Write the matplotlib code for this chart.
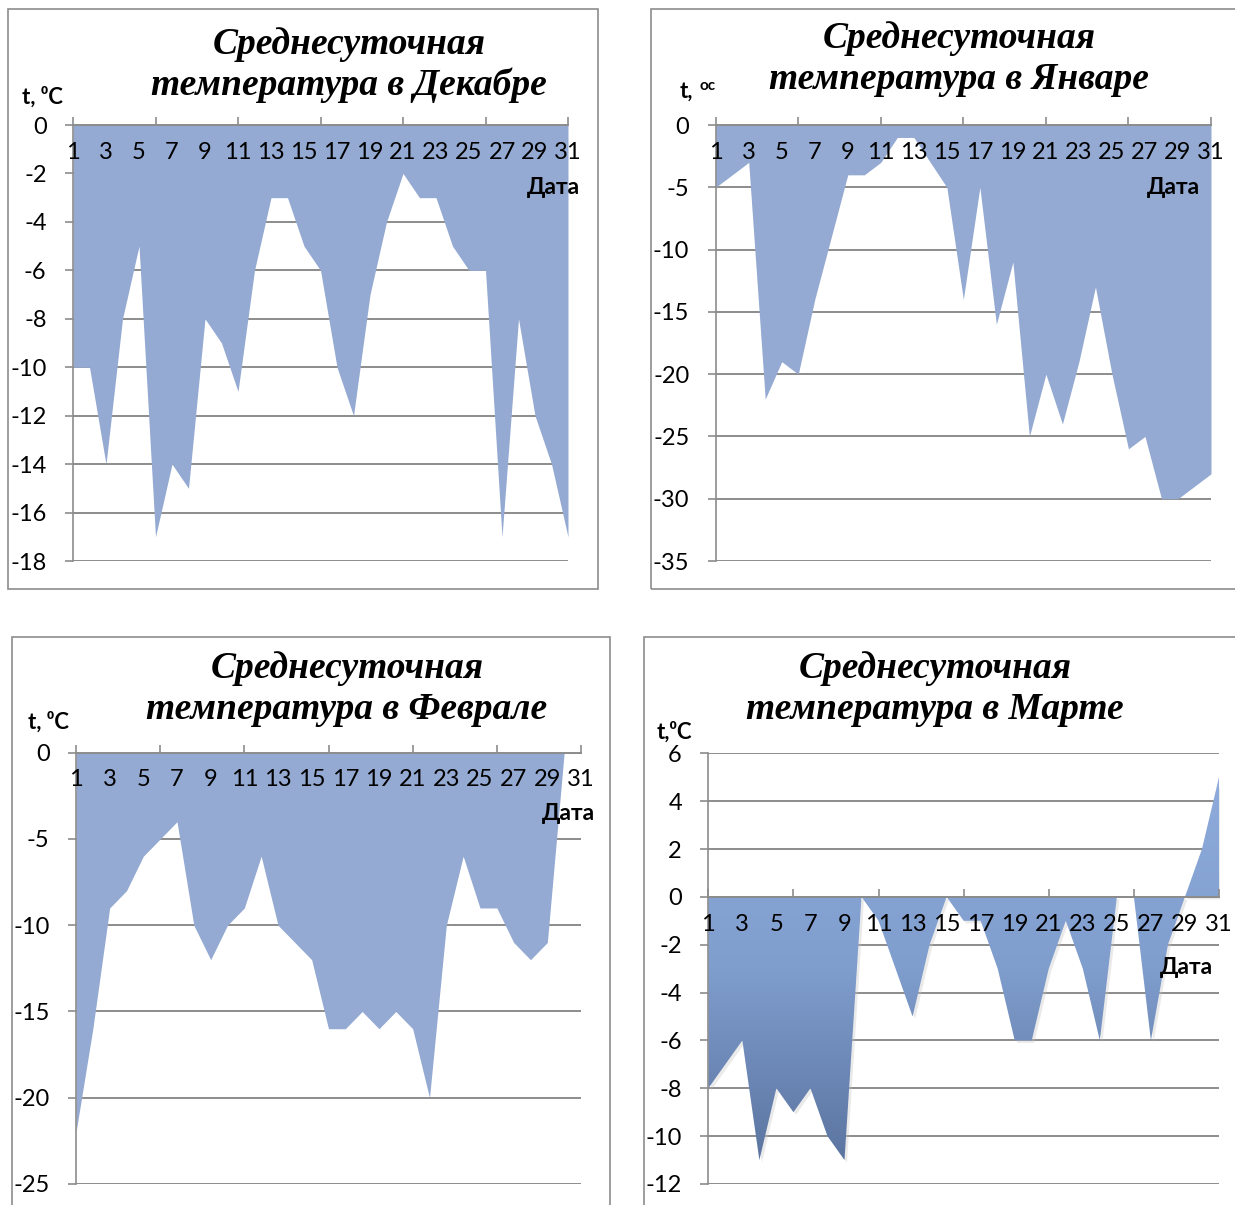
import numpy as np
import matplotlib.pyplot as plt
import matplotlib.transforms as mtransforms
from matplotlib.colors import LinearSegmentedColormap
from matplotlib.patches import Rectangle

plt.rcParams['font.family'] = ['Lato', 'DejaVu Sans']
plt.rcParams['axes.unicode_minus'] = False

# daily mean temperatures
days = list(range(1, 32))
dec = [-10, -10, -14, -8, -5, -17, -14, -15, -8, -9, -11, -6, -3, -3, -5, -6,
       -10, -12, -7, -4, -2, -3, -3, -5, -6, -6, -17, -8, -12, -14, -17]
jan = [-5, -4, -3, -22, -19, -20, -14, -9, -4, -4, -3, -1, -1, -3, -5, -14,
       -5, -16, -11, -25, -20, -24, -19, -13, -20, -26, -25, -30, -30, -29, -28]
feb = [-22, -16, -9, -8, -6, -5, -4, -10, -12, -10, -9, -6, -10, -11, -12, -16,
       -16, -15, -16, -15, -16, -20, -10, -6, -9, -9, -11, -12, -11, 0, 0]
mar = [-8, -7, -6, -11, -8, -9, -8, -10, -11, 0, -1, -3, -5, -2, 0, -1,
       -1, -3, -6, -6, -3, -1, -3, -6, 0, 0, -6, -2, 0, 2, 5]

titles = ['Среднесуточная\nтемпература в Декабре',
          'Среднесуточная\nтемпература в Январе',
          'Среднесуточная\nтемпература в Феврале',
          'Среднесуточная\nтемпература в Марте']
xlabel = 'Дата'

W, H = 1235, 1205
fig = plt.figure(figsize=(W / 100, H / 100), dpi=100)

grey = '#8c8c8c'
fill_col = '#94aad2'


def fx(x):
    return x / W


def fy(y):
    return 1 - y / H


def panel(area, box, data, ylim, ystep, title, title_x, title_y, ylab_pos, date_pos,
          gradient=False, ylab='t, ⁰C'):
    x0, x1, ytop, ybot = area
    ax = fig.add_axes([fx(x0), fy(ybot), (x1 - x0) / W, (ybot - ytop) / H])

    # frame around the chart
    bx0, by0, bx1, by1 = box
    fig.add_artist(Rectangle((fx(bx0), fy(by1)), (bx1 - bx0) / W, (by1 - by0) / H,
                             transform=fig.transFigure, fill=False, ec=grey, lw=1.2))

    if gradient:
        shadow = mtransforms.offset_copy(ax.transData, fig=fig, x=2, y=-2, units='dots')
        ax.fill_between(days, data, 0, color='#c4c4c4', alpha=0.35, lw=0,
                        transform=shadow, zorder=1.8)
        poly = ax.fill_between(days, data, 0, color='none', lw=0, zorder=2)
        cmap = LinearSegmentedColormap.from_list('m', ['#5c75a1', '#7f9dcd', '#8eabdb'])
        grad = np.linspace(0, 1, 256).reshape(-1, 1)
        img = ax.imshow(grad, extent=[1, 31, min(data), max(data)], origin='lower',
                        cmap=cmap, aspect='auto', zorder=2, interpolation='bilinear')
        img.set_clip_path(poly.get_paths()[0], transform=ax.transData)
    else:
        ax.fill_between(days, data, 0, color=fill_col, lw=0, zorder=2)

    ax.set_xlim(1, 31)
    ax.set_ylim(*ylim)

    ax.xaxis.remove_overlapping_locs = False
    ax.set_xticks(range(1, 32, 5), labels=[''] * 7)
    ax.set_xticks(days[::2], labels=[str(d) for d in days[::2]], minor=True)
    ax.tick_params(axis='x', which='major', direction='in', length=6, width=1.2, color=grey)
    ax.tick_params(axis='x', which='minor', length=0, pad=12, labelsize=17)

    ax.set_yticks(np.arange(ylim[0], ylim[1] + 1, ystep))
    ax.tick_params(axis='y', direction='out', length=6, width=1.2, color=grey,
                   pad=13, labelsize=17)
    ax.yaxis.grid(True, color=grey, lw=1.4)
    ax.set_axisbelow(True)
    ax.xaxis.set_zorder(3)   # day labels sit on top of the fill

    for s in ['top', 'right']:
        ax.spines[s].set_visible(False)
    ax.spines['left'].set_color(grey)
    ax.spines['left'].set_linewidth(1.2)
    ax.spines['bottom'].set_position(('data', 0))
    ax.spines['bottom'].set_color(grey)
    ax.spines['bottom'].set_linewidth(1.4)
    ax.spines['bottom'].set_zorder(3)

    fig.text(fx(title_x), fy(title_y), title, ha='center', va='center',
             family='Liberation Serif', weight='bold', style='italic',
             fontsize=27, linespacing=1.22)
    if ylab is None:
        # January chart has a tiny raised "oc" unit
        fig.text(fx(ylab_pos[0]), fy(ylab_pos[1]), 't,', ha='left', va='center',
                 weight='bold', fontsize=16)
        fig.text(fx(ylab_pos[0] + 20), fy(ylab_pos[1] - 5), 'oc', ha='left', va='center',
                 weight='bold', fontsize=11)
    else:
        fig.text(fx(ylab_pos[0]), fy(ylab_pos[1]), ylab, ha='left', va='center',
                 weight='bold', fontsize=16)
    fig.text(fx(date_pos[0]), fy(date_pos[1]), xlabel, ha='right', va='center',
             weight='bold', fontsize=16.5)
    return ax


panel((73, 568, 125, 561), (8, 9, 598, 589), dec, (-18, 0), 2, titles[0],
      349, 65, (22, 97), (580, 187))
panel((715.7, 1211, 125, 561), (651, 9, 1245, 589), jan, (-35, 0), 5, titles[1],
      959, 59, (680, 91), (1200, 187), ylab=None)
panel((76, 581, 752.7, 1184), (12, 637, 610, 1215), feb, (-25, 0), 5, titles[2],
      347, 689, (28, 722), (595, 813))
panel((708.3, 1219, 753.3, 1184), (644, 637, 1245, 1215), mar, (-12, 6), 2, titles[3],
      935, 689, (657, 732), (1213, 968), gradient=True, ylab='t,⁰C')

fig.savefig('out.png', dpi=100)
